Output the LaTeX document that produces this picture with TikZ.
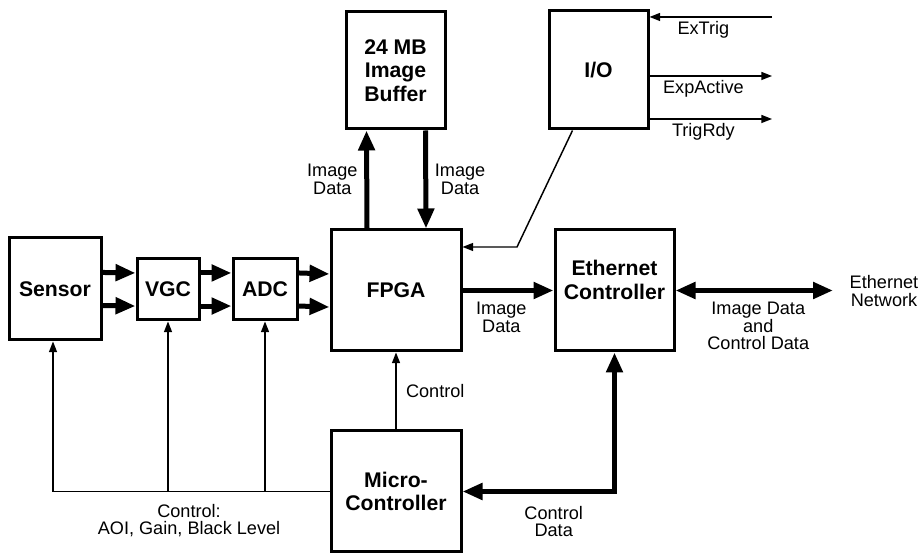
\documentclass[tikz,border=0pt]{standalone}
\usepackage{fontspec}
\setmainfont{Liberation Sans}
\usetikzlibrary{arrows.meta,calc}
\tikzset{
    block/.style={
        draw, line width=2.25pt, inner sep=0pt, align=center,
        font=\fontsize{15.9}{17.6}\selectfont\bfseries
    },
    bus/.style={
        line width=3.75pt,
        -{Triangle[length=15pt,width=12pt]}
    },
    sig/.style={
        line width=1.1pt,
        -{Triangle[length=8pt,width=6pt]}
    },
    tag/.style={
        align=center, inner sep=1pt,
        font=\fontsize{13.6}{13}\selectfont
    }
}
\begin{document}
\begin{tikzpicture}[x=0.75pt,y=-0.75pt]
    \useasboundingbox (0,0) rectangle (922,559);
    % blocks
    \node[block, minimum width=92*0.75pt, minimum height=102*0.75pt] (sensor) at (55,289) {Sensor};
    \node[block, minimum width=62*0.75pt, minimum height=61*0.75pt] (vgc) at (168,289.5) {VGC};
    \node[block, minimum width=64*0.75pt, minimum height=61*0.75pt] (adc) at (265,289.5) {ADC};
    \node[block, minimum width=130*0.75pt, minimum height=121*0.75pt] (fpga) at (396,290.5) {FPGA};
    \node[block, minimum width=99*0.75pt, minimum height=117*0.75pt] (buffer) at (395.5,70.5) {24 MB\\Image\\Buffer};
    \node[block, minimum width=99*0.75pt, minimum height=118*0.75pt] (io) at (598.5,70) {I/O};
    \node[block, minimum width=119*0.75pt, minimum height=121*0.75pt,
        label={[block, draw=none, yshift=8pt]center:Ethernet\\Controller}] (eth) at (614.5,290.5) {};
    \node[block, minimum width=130*0.75pt, minimum height=121*0.75pt] (micro) at (396,491.5) {Micro-\\Controller};
    \node[tag] (network) at (884,291) {Ethernet\\Network};
    \coordinate (netend) at (833,290.5);
    \coordinate (extrig) at (772,17);
    \coordinate (expact) at (772,76);
    \coordinate (trigrdy) at (772,119);
    \coordinate (bend) at (517,247);

    % image path
    \foreach \a/\b in {sensor/vgc,vgc/adc,adc/fpga}
        \foreach \dy in {12.4pt,-12.4pt}
            \draw[bus] ([yshift=\dy]\a.east) -- ([yshift=\dy]\b.west);
    \draw[bus] ([xshift=-21.75pt]fpga.north) -- ([xshift=-21.75pt]buffer.south)
        node[tag, midway, left=4pt] {Image\\Data};
    \draw[bus] ([xshift=22.5pt]buffer.south) -- ([xshift=22.5pt]fpga.north)
        node[tag, midway, right=4pt] {Image\\Data};
    \draw[bus] (fpga.east) -- (eth.west)
        node[tag, midway, below=6pt, xshift=-5pt] {Image\\Data};
    \draw[bus, {Triangle[length=15pt,width=12pt]}-{Triangle[length=15pt,width=12pt]}] (eth.east) -- (netend)
        node[tag, midway, below=6pt, xshift=3pt] {Image Data\\and\\Control Data};
    \draw[bus, {Triangle[length=15pt,width=12pt]}-{Triangle[length=15pt,width=12pt]}] (micro.east) -| (eth.south)
        node[tag, pos=0.3, below=8pt] {Control\\Data};

    % control
    \draw[sig] (micro.north) -- (fpga.south)
        node[tag, midway, right=6pt] {Control};
    \draw[sig] (micro.west) -| ([xshift=-1.5pt]sensor.south)
        node[tag, pos=0.254, below=8pt] {Control:\\AOI, Gain, Black Level};
    \draw[sig] (vgc.south |- micro.west) -- (vgc.south);
    \draw[sig] (adc.south |- micro.west) -- (adc.south);

    % i/o
    \draw[sig] ([xshift=-19.5pt]io.south) -- (bend) -- (bend -| fpga.east);
    \draw[sig] (extrig) -- (io.east |- extrig) node[tag, pos=0.56, below=2pt] {ExTrig};
    \draw[sig] (io.east |- expact) -- (expact) node[tag, pos=0.44, below=2pt] {ExpActive};
    \draw[sig] (io.east |- trigrdy) -- (trigrdy) node[tag, pos=0.44, below=2pt] {TrigRdy};
\end{tikzpicture}
\end{document}
